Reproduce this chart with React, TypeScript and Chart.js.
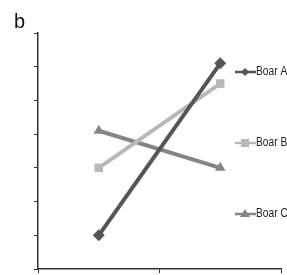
import React, { useEffect, useRef } from "react";
import { Chart, registerables } from "chart.js";

Chart.register(...registerables);

const categories = ["1", "2"];
const boarA = [1.0, 6.1];
const boarB = [3.0, 5.5];
const boarC = [4.1, 3.0];
const seriesNames = ["Boar A", "Boar B", "Boar C"];
const yTicks = [0, 1, 2, 3, 4, 5, 6, 7];

const colors = ["#555555", "#b8b8b8", "#858585"];
const pointStyles = ["rectRot", "rect", "triangle"];
const legendY = [72, 143, 214];

const overlayPlugin = {
  id: "overlay",
  afterDraw(chart: any) {
    const ctx = chart.ctx;
    ctx.save();
    ctx.fillStyle = "#111";
    ctx.font = "20px 'Liberation Sans', Arial, sans-serif";
    ctx.textBaseline = "alphabetic";
    ctx.textAlign = "left";
    ctx.fillText("b", 14, 28);
    ctx.font = "12px 'Liberation Sans', Arial, sans-serif";
    ctx.textBaseline = "middle";
    seriesNames.forEach((name, i) => {
      const y = legendY[i];
      ctx.strokeStyle = colors[i];
      ctx.lineWidth = 2.5;
      ctx.beginPath();
      ctx.moveTo(235, y);
      ctx.lineTo(256, y);
      ctx.stroke();
      ctx.fillStyle = colors[i];
      const cx = 245;
      ctx.beginPath();
      if (i === 0) {
        ctx.moveTo(cx, y - 4);
        ctx.lineTo(cx + 4, y);
        ctx.lineTo(cx, y + 4);
        ctx.lineTo(cx - 4, y);
      } else if (i === 1) {
        ctx.rect(cx - 4, y - 4, 8, 8);
      } else {
        ctx.moveTo(cx, y - 5);
        ctx.lineTo(cx + 5, y + 3);
        ctx.lineTo(cx - 5, y + 3);
      }
      ctx.closePath();
      ctx.fill();
      ctx.fillStyle = "#222";
      ctx.save();
      ctx.translate(256, y);
      ctx.scale(0.85, 1);
      ctx.fillText(name, 0, 0);
      ctx.restore();
    });
    ctx.restore();
  },
};

export default function App() {
  const ref = useRef<HTMLCanvasElement>(null);
  useEffect(() => {
    if (!ref.current) return;
    const chart = new Chart(ref.current, {
      type: "line",
      data: {
        labels: categories,
        datasets: [boarA, boarB, boarC].map((d, i) => ({
          label: seriesNames[i],
          data: d,
          borderColor: colors[i],
          backgroundColor: colors[i],
          borderWidth: 4,
          pointStyle: pointStyles[i] as any,
          pointRadius: 6,
          pointBorderWidth: 0,
          tension: 0,
        })),
      },
      options: {
        responsive: false,
        animation: false,
        layout: { padding: { top: 33, right: 3, left: 0, bottom: 0 } },
        plugins: { legend: { display: false }, tooltip: { enabled: false } },
        scales: {
          x: {
            offset: true,
            grid: {
              offset: true,
              drawOnChartArea: false,
              drawTicks: true,
              tickLength: 4,
              color: "#333",
            },
            border: { color: "#333", width: 1.5 },
            ticks: { display: false },
            afterFit: (s: any) => {
              s.height = 5;
            },
          },
          y: {
            min: 0,
            max: 7,
            afterBuildTicks: (s: any) => {
              s.ticks = yTicks.map((v) => ({ value: v }));
            },
            grid: {
              drawOnChartArea: false,
              drawTicks: true,
              tickLength: 4,
              color: "#333",
            },
            border: { color: "#333", width: 1.5 },
            ticks: { display: false },
            afterFit: (s: any) => {
              s.width = 38;
            },
          },
        },
      },
      plugins: [overlayPlugin],
    });
    return () => chart.destroy();
  }, []);
  return (
    <div style={{ position: "fixed", left: 0, top: 0, width: 287, height: 275, background: "#fff" }}>
      <canvas ref={ref} width={287} height={275} style={{ width: 287, height: 275 }} />
    </div>
  );
}
